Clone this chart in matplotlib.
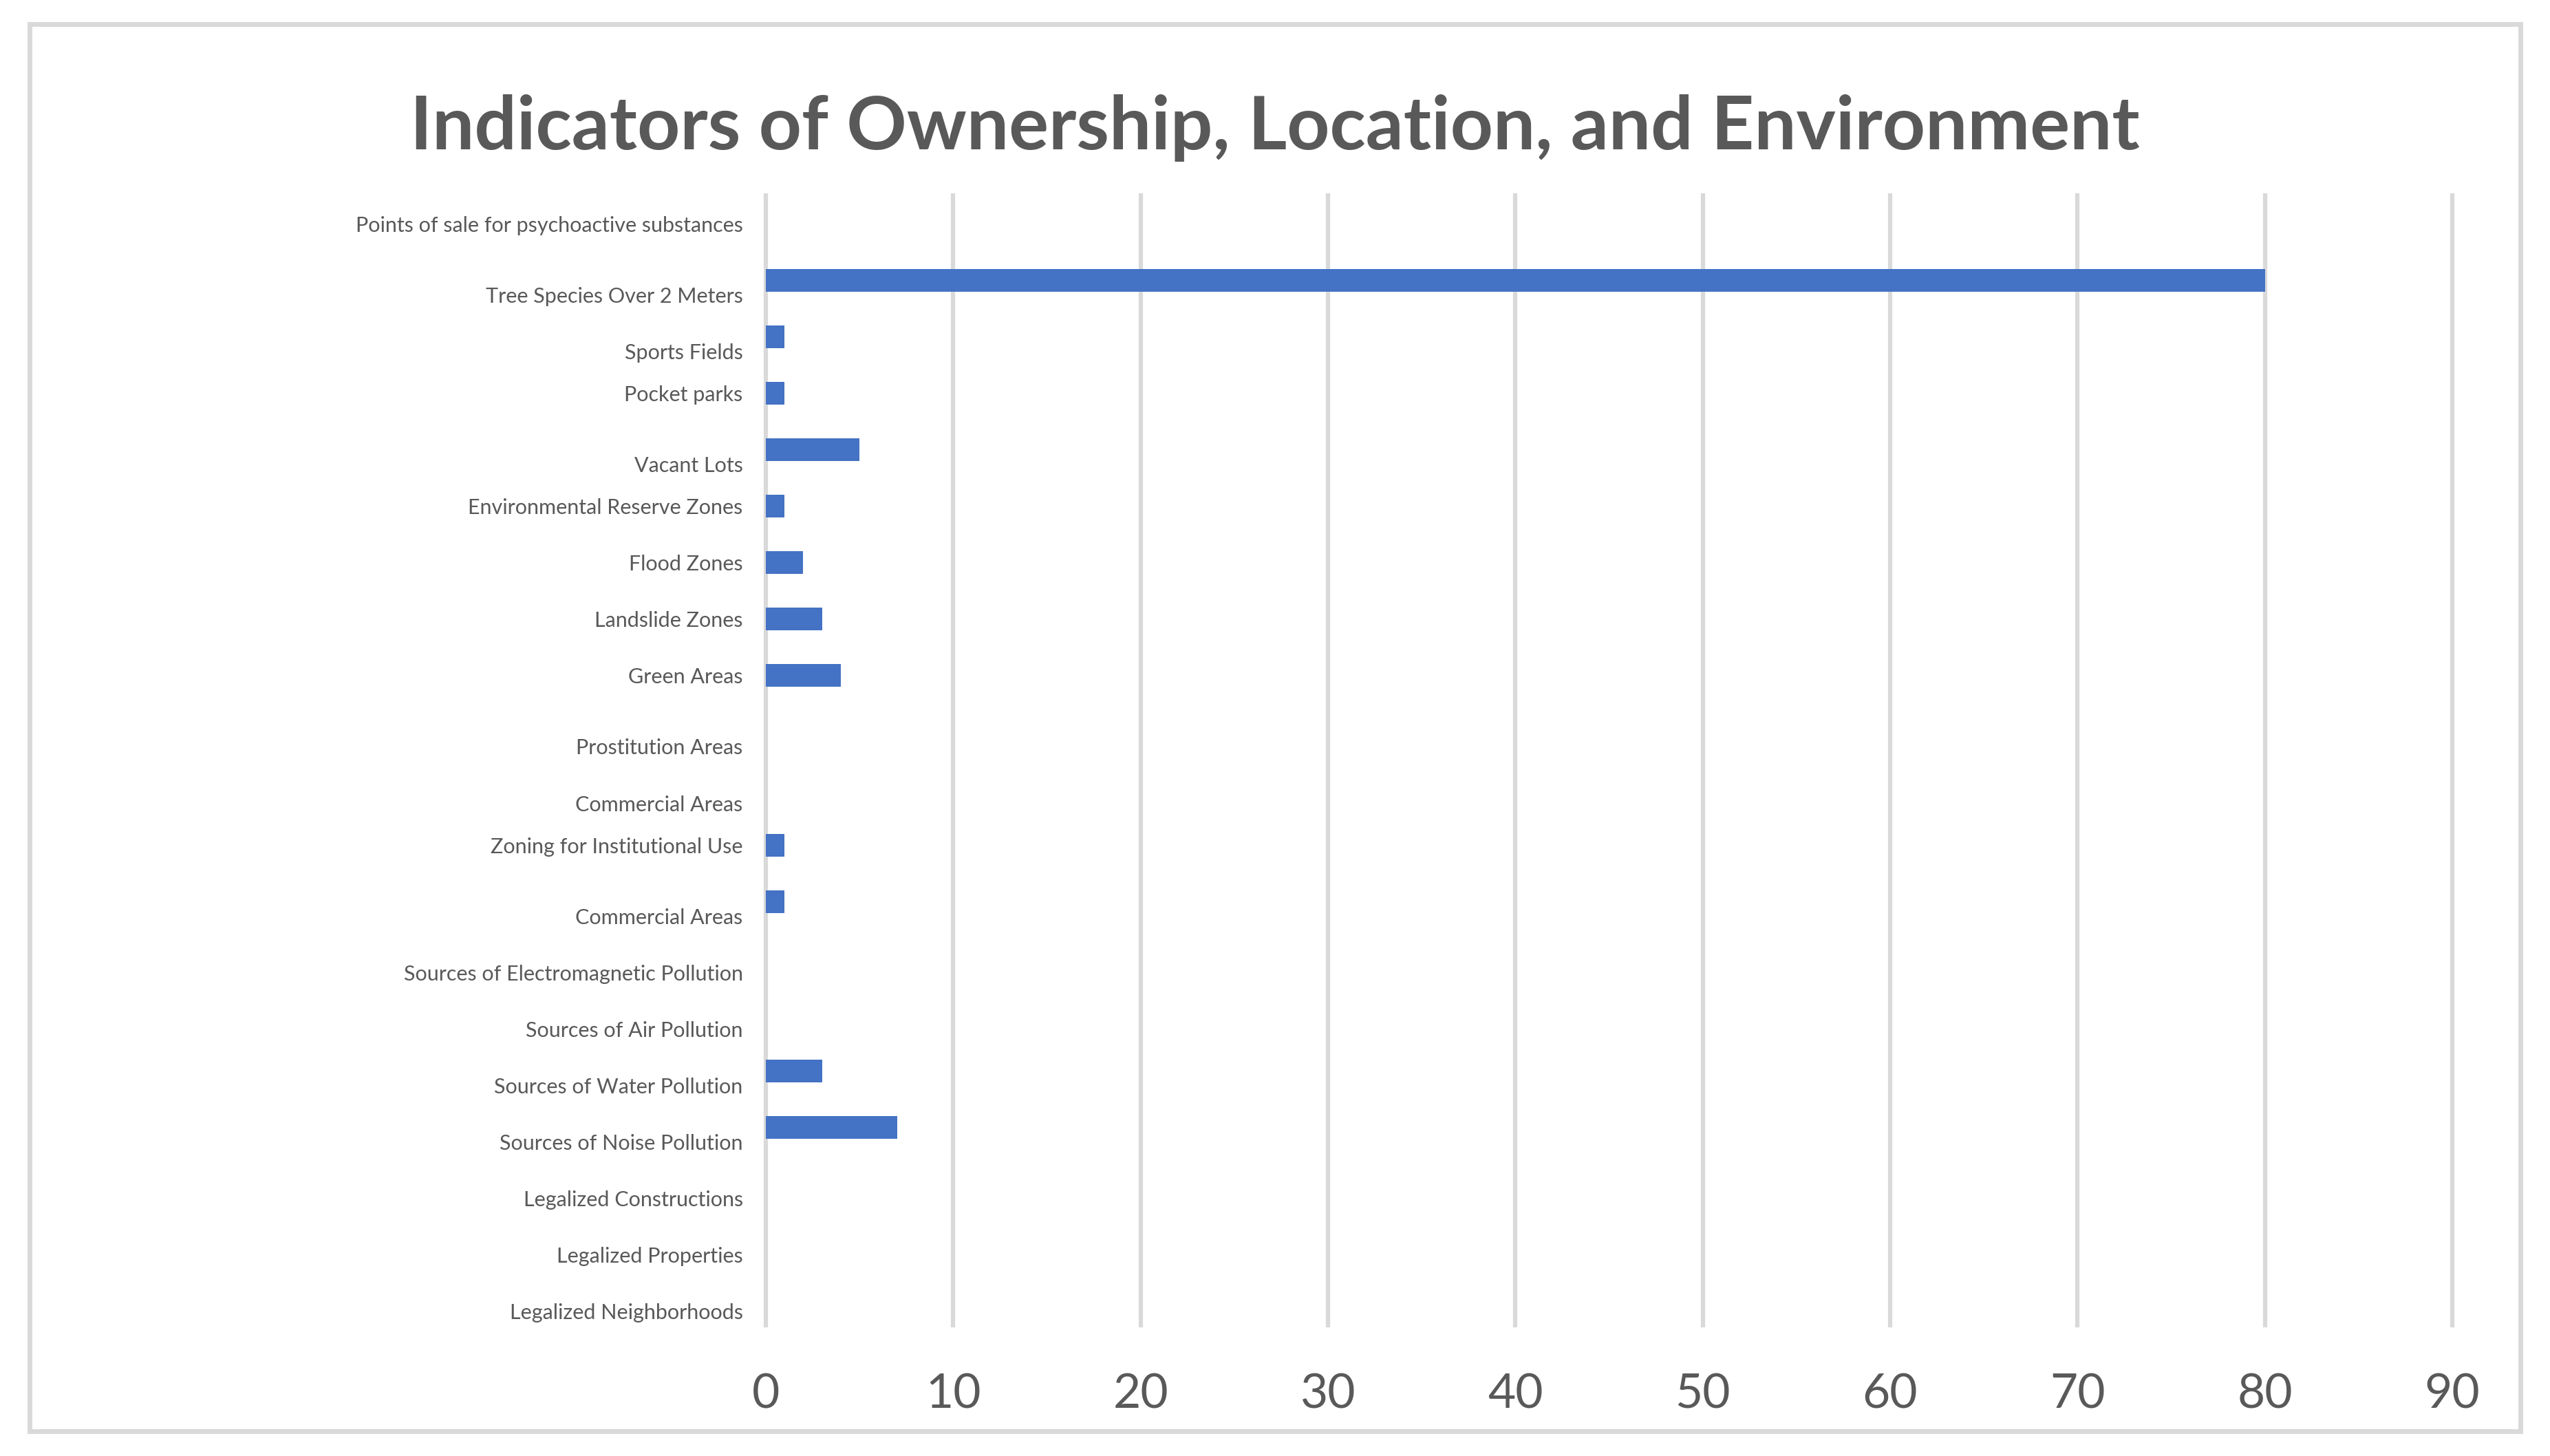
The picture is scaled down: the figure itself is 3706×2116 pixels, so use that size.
import numpy as np
import matplotlib; matplotlib.use('Agg')
import matplotlib.pyplot as plt
import matplotlib.transforms as mtransforms
from matplotlib.patches import Rectangle

plt.rcParams['font.family'] = ['Lato', 'DejaVu Sans']

# data, top to bottom as shown
categories = [
    'Points of sale for psychoactive substances',
    'Tree Species Over 2 Meters',
    'Sports Fields',
    'Pocket parks',
    'Vacant Lots',
    'Environmental Reserve Zones',
    'Flood Zones',
    'Landslide Zones',
    'Green Areas',
    'Prostitution Areas',
    'Commercial Areas',
    'Zoning for Institutional Use',
    'Commercial Areas',
    'Sources of Electromagnetic Pollution',
    'Sources of Air Pollution',
    'Sources of Water Pollution',
    'Sources of Noise Pollution',
    'Legalized Constructions',
    'Legalized Properties',
    'Legalized Neighborhoods',
]
values = [0, 80, 1, 1, 5, 1, 2, 3, 4, 0, 0, 1, 1, 0, 0, 3, 7, 0, 0, 0]
xticks = [0, 10, 20, 30, 40, 50, 60, 70, 80, 90]
title = 'Indicators of Ownership, Location, and Environment'

# labels that sit a bit lower than their bar slot in the original
lowered = {1, 2, 4, 9, 10, 12, 13, 14, 15, 16, 17, 18, 19}

TXT = '#595959'
GRID = '#D9D9D9'
BAR = '#4472C4'

W, H, DPI = 3706, 2116, 100
fig = plt.figure(figsize=(W / DPI, H / DPI), dpi=DPI)

# outer chart border
fig.patches.append(Rectangle((43 / W, 1 - 2080 / H), (3663 - 43) / W, (2080 - 35) / H,
                             transform=fig.transFigure, fill=False,
                             edgecolor=GRID, linewidth=5))

fig.text(0.5, 1 - 186 / H, title, ha='center', va='center',
         fontsize=78, fontweight='bold', color=TXT)

ax = fig.add_axes([1113 / W, 1 - 1926 / H, (3564 - 1113) / W, (1926 - 284) / H])
y = np.arange(len(categories))
ax.barh(y, values, height=0.4, color=BAR, zorder=3)
ax.set_ylim(len(categories) - 0.5, -0.5)
ax.set_xlim(0, 90)

ax.set_xticks(xticks)
ax.set_xticklabels([str(t) for t in xticks])
ax.set_yticks(y)
ax.set_yticklabels(categories)
ax.tick_params(axis='x', length=0, pad=50, labelsize=50, labelcolor=TXT)
ax.tick_params(axis='y', length=0, pad=24, labelsize=22, labelcolor=TXT)

ax.grid(axis='x', color=GRID, linewidth=4.5, zorder=0)
ax.grid(axis='y', visible=False)
for gl in ax.xaxis.get_gridlines():
    gl.set_clip_on(False)
for s in ax.spines.values():
    s.set_visible(False)

shift = mtransforms.ScaledTranslation(0, -21 / DPI, fig.dpi_scale_trans)
for i, lab in enumerate(ax.get_yticklabels()):
    if i in lowered:
        lab.set_transform(lab.get_transform() + shift)

fig.savefig('out.png', dpi=DPI, facecolor='white')
